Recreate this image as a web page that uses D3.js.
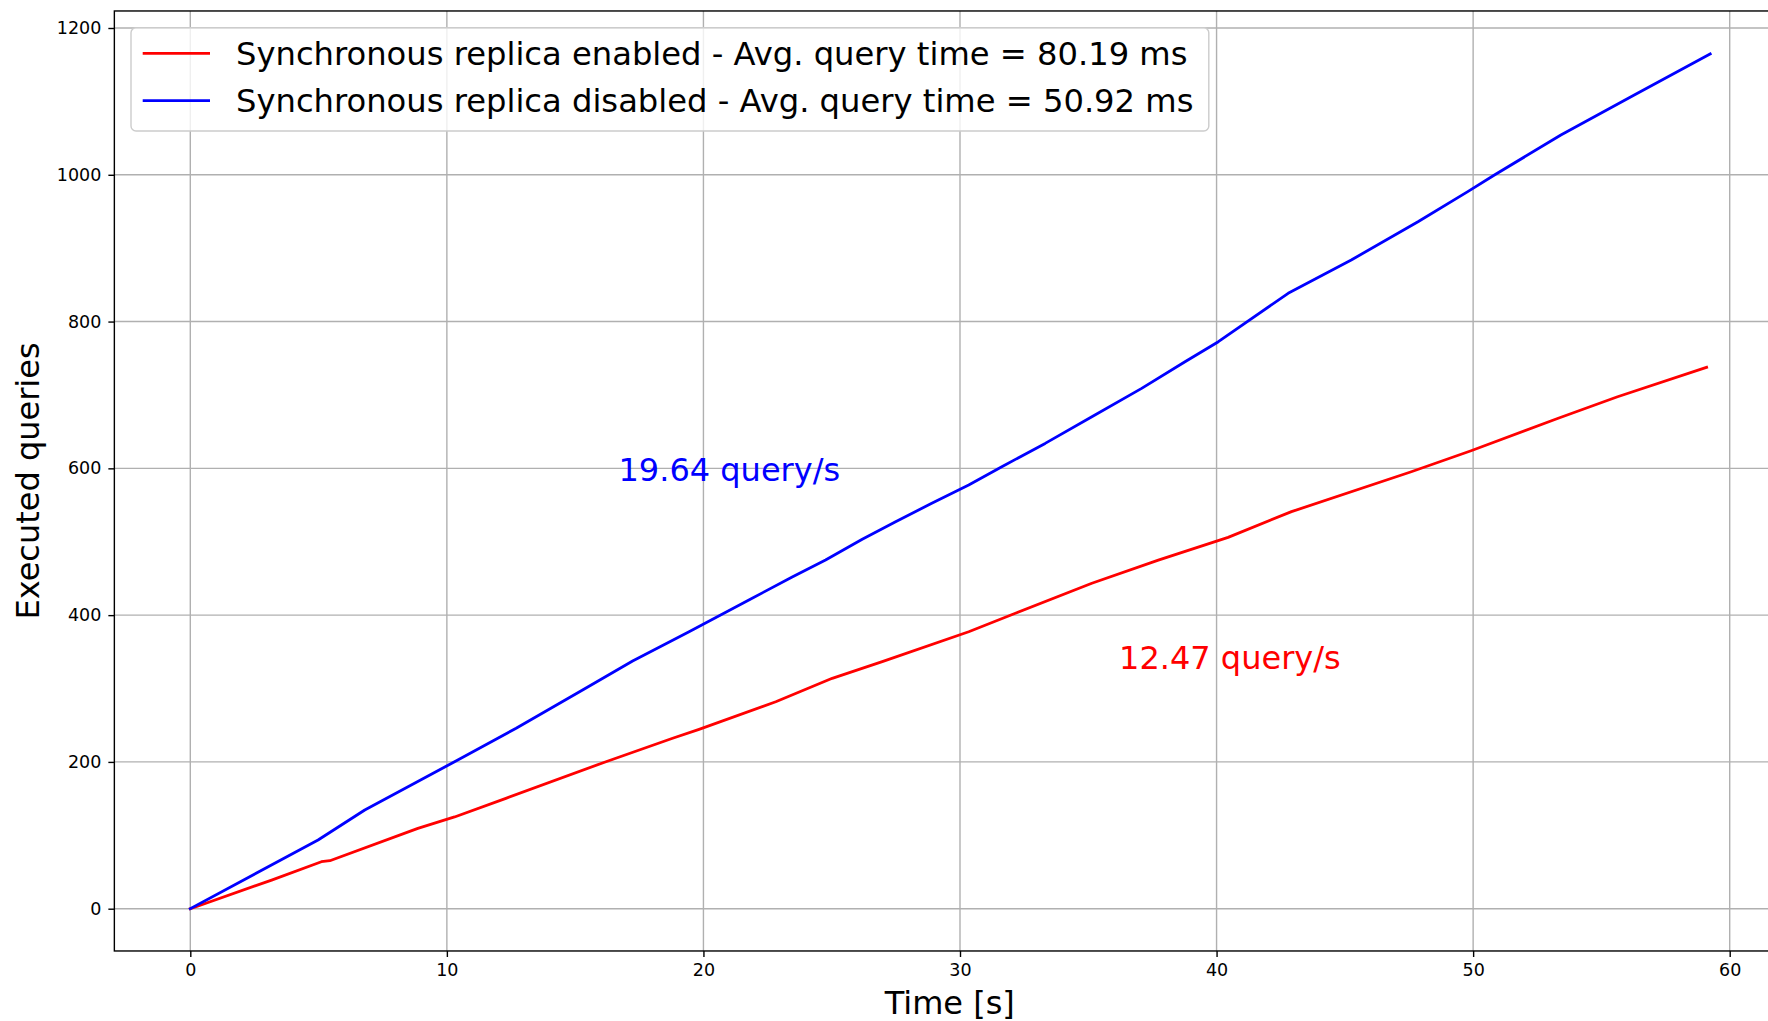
<!DOCTYPE html>
<html>
<head>
<meta charset="utf-8">
<script src="https://d3js.org/d3.v7.min.js"></script>
<style>
  body { margin: 0; background: #fff; }
  text { font-family: "DejaVu Sans", sans-serif; }
</style>
</head>
<body>
<div class="chart"></div>
<script>
// values
var timeEnabled = [0, 3.17, 5.11, 5.44, 8.87, 10.3, 12.3, 16.2, 18.8, 19.83, 22.82, 25.02, 26.97, 30.34,
  32.16, 35.14, 37.73, 40.45, 42.92, 47.59, 49.92, 53.29, 55.63, 59.1];
var queriesEnabled = [0, 39, 64, 65.4, 109.5, 125, 150.4, 200.3, 232.2, 244.4, 282, 313.9, 336.6, 377.4,
  402.5, 443.4, 475, 506, 541, 595.4, 624, 668, 697.6, 737.7];

var timeDisabled = [0, 4.98, 6.8, 8.74, 10.3, 12.7, 15.29, 17.24, 19.44, 21.9, 23.46, 24.76, 26.19, 27.49,
  28.9, 30.34, 31.63, 33.32, 35.14, 37.08, 38.77, 40.07, 42.79, 45.25, 47.85, 49.79, 50.83, 53.42, 56.28, 59.24];
var queriesDisabled = [0, 93.6, 134.5, 170.8, 200.3, 245.8, 298, 337.5, 377.4, 423, 452, 475, 503.5, 527.3,
  552.4, 577.3, 602.3, 634, 670.4, 709, 745.3, 772.6, 838.5, 883.9, 936, 977, 999.7, 1054.2, 1108.7, 1164.6];

var xTicks = [0, 10, 20, 30, 40, 50, 60];
var yTicks = [0, 200, 400, 600, 800, 1000, 1200];

var seriesNames = [
  "Synchronous replica enabled - Avg. query time = 80.19 ms",
  "Synchronous replica disabled - Avg. query time = 50.92 ms"
];
var seriesColors = ["red", "blue"];
var rateLabels = ["12.47 query/s", "19.64 query/s"];
var ratePos = [[36.2, 326], [16.69, 583]];

var svgWidth = 1768;
var svgHeight = 1021;

var svg = d3.select(".chart")
  .append("svg")
  .attr("width", svgWidth)
  .attr("height", svgHeight);

var xScale = d3.scaleLinear().domain([0, 60]).range([190.3, 1729.7]);
var yScale = d3.scaleLinear().domain([0, 1200]).range([908.7, 28]);

// axes box (matplotlib margins)
var x0 = xScale(-2.96), x1 = xScale(62.16);
var y0 = yScale(-57.6), y1 = yScale(1223.2);

// grid
var grid = svg.append("g");
grid.selectAll(".gx")
  .data(xTicks)
  .enter()
  .append("line")
  .attr("x1", d => xScale(d)).attr("x2", d => xScale(d))
  .attr("y1", y1).attr("y2", y0)
  .attr("stroke", "#b0b0b0")
  .attr("stroke-width", 1.4);
grid.selectAll(".gy")
  .data(yTicks)
  .enter()
  .append("line")
  .attr("x1", x0).attr("x2", x1)
  .attr("y1", d => yScale(d)).attr("y2", d => yScale(d))
  .attr("stroke", "#b0b0b0")
  .attr("stroke-width", 1.4);

// lines
var line = d3.line()
  .x(d => xScale(d[0]))
  .y(d => yScale(d[1]));

var series = [
  d3.zip(timeEnabled, queriesEnabled),
  d3.zip(timeDisabled, queriesDisabled)
];

svg.selectAll(".series")
  .data(series)
  .enter()
  .append("path")
  .attr("d", line)
  .attr("fill", "none")
  .attr("stroke", (d, i) => seriesColors[i])
  .attr("stroke-width", 2.8)
  .attr("stroke-linejoin", "round")
  .attr("stroke-linecap", "square");

// spines
svg.append("rect")
  .attr("x", x0).attr("y", y1)
  .attr("width", x1 - x0).attr("height", y0 - y1)
  .attr("fill", "none")
  .attr("stroke", "#000")
  .attr("stroke-width", 1.4);

// axes
var bottomAxis = d3.axisBottom(xScale)
  .tickValues(xTicks)
  .tickFormat(d3.format("d"))
  .tickSize(6)
  .tickPadding(7)
  .tickSizeOuter(0);
var leftAxis = d3.axisLeft(yScale)
  .tickValues(yTicks)
  .tickFormat(d3.format("d"))
  .tickSize(6)
  .tickPadding(7)
  .tickSizeOuter(0);

var xAxis = svg.append("g")
  .attr("transform", `translate(0, ${y0})`)
  .call(bottomAxis);
var yAxis = svg.append("g")
  .attr("transform", `translate(${x0}, 0)`)
  .call(leftAxis);

[xAxis, yAxis].forEach(function(ax) {
  ax.select(".domain").remove();
  ax.selectAll(".tick line").attr("stroke", "#000").attr("stroke-width", 1.4);
  ax.selectAll(".tick text")
    .attr("fill", "#000")
    .style("font-family", "DejaVu Sans")
    .style("font-size", "17.5px");
});

// rate annotations
svg.selectAll(".rate")
  .data(rateLabels)
  .enter()
  .append("text")
  .attr("x", (d, i) => xScale(ratePos[i][0]))
  .attr("y", (d, i) => yScale(ratePos[i][1]))
  .attr("fill", (d, i) => seriesColors[i])
  .style("font-size", "32px")
  .text(d => d);

// axis labels
svg.append("text")
  .attr("x", (x0 + x1) / 2)
  .attr("y", 1014)
  .attr("text-anchor", "middle")
  .style("font-size", "32px")
  .text("Time [s]");

svg.append("text")
  .attr("transform", `translate(39, ${(y0 + y1) / 2}) rotate(-90)`)
  .attr("text-anchor", "middle")
  .style("font-size", "32px")
  .text("Executed queries");

// legend
var legend = svg.append("g");
legend.append("rect")
  .attr("x", 131).attr("y", 27.7)
  .attr("width", 1077.8).attr("height", 103.3)
  .attr("rx", 5)
  .attr("fill", "#fff")
  .attr("fill-opacity", 0.8)
  .attr("stroke", "#cccccc")
  .attr("stroke-width", 1.4);

var legendRows = [53.3, 100.7];
legend.selectAll(".lline")
  .data(seriesNames)
  .enter()
  .append("line")
  .attr("x1", 142.7).attr("x2", 210)
  .attr("y1", (d, i) => legendRows[i]).attr("y2", (d, i) => legendRows[i])
  .attr("stroke", (d, i) => seriesColors[i])
  .attr("stroke-width", 2.8);
legend.selectAll(".ltext")
  .data(seriesNames)
  .enter()
  .append("text")
  .attr("x", 236)
  .attr("y", (d, i) => legendRows[i] + 11.6)
  .style("font-size", "32.2px")
  .attr("fill", "#000")
  .text(d => d);
</script>
</body>
</html>
